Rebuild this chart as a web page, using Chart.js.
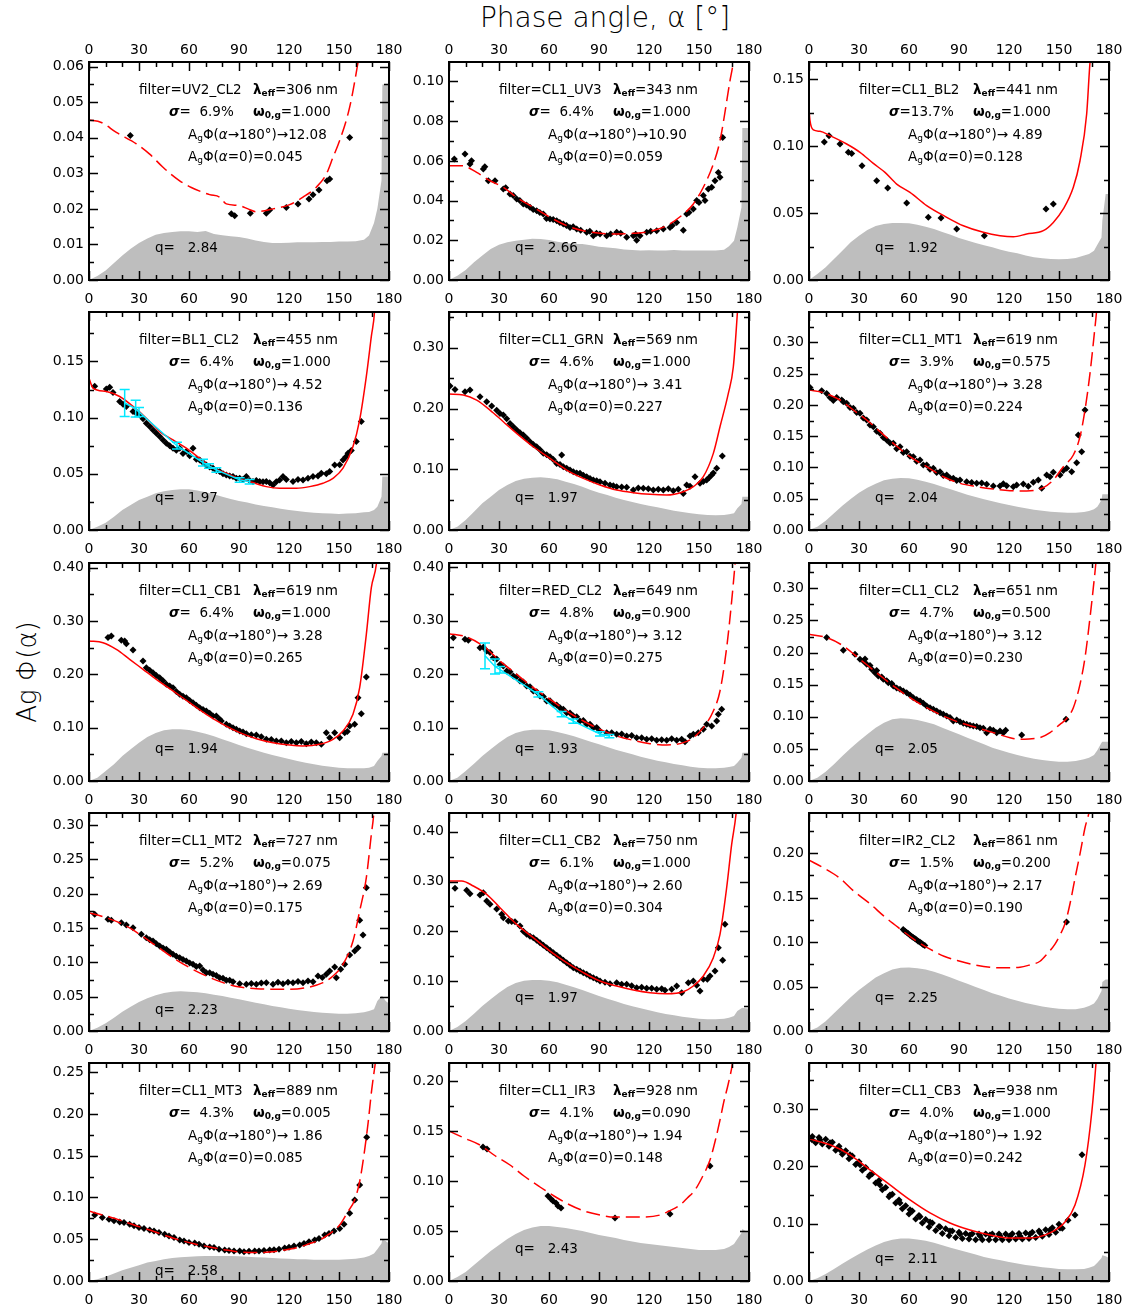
<!DOCTYPE html>
<html><head><meta charset="utf-8"><title>Phase curves</title>
<script src="https://cdn.jsdelivr.net/npm/chart.js@4.4.1/dist/chart.umd.min.js"></script>
<style>
html,body{margin:0;padding:0;background:#fff;}
#wrap{position:relative;width:1134px;height:1313px;overflow:hidden;background:#fff;}
#wrap canvas{position:absolute;}
.lbl{position:absolute;font-family:"DejaVu Sans ExtraLight","DejaVu Sans",sans-serif;font-weight:200;color:#000;white-space:nowrap;text-align:center;}
#title{left:405px;top:0px;width:400px;font-size:28px;line-height:36px;}
#ylab{left:-73px;top:655px;width:200px;height:34px;font-size:26px;line-height:34px;transform:rotate(-90deg);}
</style></head>
<body><div id="wrap">
<div id="title" class="lbl">Phase angle, α [°]</div>
<div id="ylab" class="lbl">Ag Φ(α)</div>
</div>
<script>
// ---------------- DATA ----------------
const filters = ['UV2_CL2','CL1_UV3','CL1_BL2','BL1_CL2','CL1_GRN','CL1_MT1','CL1_CB1','RED_CL2','CL1_CL2','CL1_MT2','CL1_CB2','IR2_CL2','CL1_MT3','CL1_IR3','CL1_CB3'];
const lambdas = ['306','343','441','455','569','619','619','649','651','727','750','861','889','928','938'];
const sigmas = ['  6.9%','  6.4%','13.7%','  6.4%','  4.6%','  3.9%','  6.4%','  4.8%','  4.7%','  5.2%','  6.1%','  1.5%','  4.3%','  4.1%','  4.0%'];
const omegas = ['1.000','1.000','1.000','1.000','1.000','0.575','1.000','0.900','0.500','0.075','1.000','0.200','0.005','0.090','1.000'];
const ag180 = ['12.08','10.90',' 4.89',' 4.52',' 3.41',' 3.28',' 3.28',' 3.12',' 3.12',' 2.69',' 2.60',' 2.17',' 1.86',' 1.94',' 1.92'];
const ag0 = ['0.045','0.059','0.128','0.136','0.227','0.224','0.265','0.275','0.230','0.175','0.304','0.190','0.085','0.148','0.242'];
const qvals = ['2.84','2.66','1.92','1.97','1.97','2.04','1.94','1.93','2.05','2.23','1.97','2.25','2.58','2.43','2.11'];
const yMax = [0.0613,0.1098,0.1627,0.194,0.359,0.3485,0.409,0.4075,0.3395,0.3175,0.4375,0.245,0.261,0.218,0.38];
const yStep = [0.01,0.02,0.05,0.05,0.10,0.05,0.10,0.10,0.05,0.05,0.10,0.05,0.05,0.05,0.10];
const dashedFit = [true,true,false,false,false,true,false,true,true,true,false,true,true,true,false];
const xTicks = [0,30,60,90,120,150,180];

const histX = [0,5,10,15,20,25,30,35,40,45,50,55,60,65,70,75,80,85,90,95,100,105,110,115,120,125,130,135,140,145,150,155,160,165,168,171,173,175.5,176,178,180];
const hist1 = [0,0.0011,0.0027,0.0048,0.0069,0.0088,0.0104,0.0117,0.0127,0.0132,0.0135,0.0137,0.0137,0.0135,0.0138,0.0129,0.0126,0.0123,0.0121,0.0117,0.0111,0.0107,0.0104,0.0104,0.0105,0.0106,0.0106,0.0106,0.0107,0.0107,0.0108,0.0108,0.0109,0.0113,0.0125,0.016,0.02,0.028,0.055,0.055,0.055];
const hist2 = [0,0.0022,0.005,0.0089,0.0123,0.0156,0.0178,0.019,0.0198,0.0203,0.0208,0.0206,0.0201,0.0193,0.0186,0.0181,0.0181,0.0175,0.0168,0.0164,0.016,0.0154,0.0151,0.0148,0.015,0.0148,0.0148,0.0151,0.0148,0.0148,0.0148,0.0148,0.0148,0.0152,0.017,0.0198,0.0265,0.0366,0.0765,0.0765,0.0765];
const hist3 = [0,0.0045,0.0095,0.0157,0.0219,0.0281,0.0331,0.0373,0.0403,0.0418,0.0425,0.0425,0.0423,0.0413,0.0398,0.0381,0.0358,0.0338,0.0313,0.0294,0.0276,0.0259,0.0244,0.0226,0.0211,0.0199,0.0182,0.0169,0.0162,0.0157,0.0154,0.0157,0.0164,0.0182,0.0194,0.0219,0.0264,0.0318,0.0443,0.0642,0.0642];
const hist4 = [0,0.003,0.0065,0.0119,0.0178,0.0223,0.0267,0.0297,0.0327,0.0345,0.0357,0.0362,0.0362,0.0351,0.0336,0.0318,0.0297,0.0276,0.0258,0.0244,0.0226,0.0214,0.0202,0.019,0.0178,0.0169,0.016,0.0154,0.0149,0.0146,0.0143,0.0146,0.0149,0.0157,0.016,0.0178,0.0208,0.0297,0.0475,0.0475,0.0475];
const hist5 = [0,0.0055,0.0165,0.0302,0.0439,0.0549,0.0658,0.0741,0.0806,0.0845,0.0861,0.0867,0.0856,0.0834,0.0795,0.0757,0.0713,0.0658,0.0614,0.0576,0.0532,0.0494,0.0461,0.0428,0.04,0.0373,0.0346,0.0318,0.0296,0.0274,0.0258,0.0247,0.0241,0.0247,0.0258,0.0274,0.0357,0.0428,0.0549,0.0549,0.0549];
const hist6 = [0,0.0053,0.0149,0.0266,0.0389,0.0495,0.0597,0.0677,0.0741,0.0794,0.082,0.0831,0.0826,0.0804,0.0773,0.0735,0.0693,0.065,0.0607,0.0565,0.0527,0.049,0.0458,0.0426,0.04,0.0373,0.0346,0.0325,0.0309,0.0293,0.0282,0.0277,0.0277,0.0288,0.0304,0.033,0.0373,0.0479,0.057,0.057,0.057];
const hist7 = [0,0.0063,0.0188,0.0313,0.0469,0.0594,0.0719,0.0826,0.0901,0.0951,0.0969,0.0969,0.0957,0.0926,0.0888,0.0838,0.0782,0.0732,0.0675,0.0625,0.0575,0.0532,0.0488,0.045,0.0413,0.0375,0.0344,0.0313,0.0288,0.0269,0.025,0.0238,0.0238,0.0238,0.025,0.0281,0.0375,0.0469,0.0532,0.0532,0.0532];
const hist8 = [0,0.0062,0.0187,0.0324,0.0467,0.0592,0.0717,0.0822,0.0897,0.0941,0.096,0.096,0.0947,0.0916,0.0879,0.0835,0.0785,0.0735,0.0685,0.0636,0.0586,0.0542,0.0498,0.0455,0.0417,0.038,0.0349,0.0318,0.0293,0.0268,0.0249,0.0237,0.0237,0.0249,0.0262,0.028,0.0343,0.0436,0.053,0.053,0.053];
const hist9 = [0,0.0052,0.0145,0.026,0.0389,0.0509,0.0623,0.0727,0.0831,0.0909,0.0961,0.0976,0.0971,0.095,0.0919,0.0883,0.0831,0.0779,0.0727,0.0675,0.0623,0.0571,0.0519,0.0478,0.0441,0.0405,0.0374,0.0348,0.0327,0.0312,0.0301,0.0301,0.0312,0.0337,0.0363,0.0405,0.0478,0.0597,0.0613,0.0613,0.0613];
const hist10 = [0,0.0049,0.0112,0.0194,0.0282,0.0354,0.0422,0.0476,0.0519,0.0553,0.0573,0.0578,0.0573,0.0563,0.0549,0.0529,0.051,0.0485,0.0461,0.0437,0.0413,0.0388,0.0364,0.0345,0.0325,0.0306,0.0291,0.0277,0.0267,0.0257,0.0252,0.0252,0.0257,0.0272,0.0291,0.0316,0.0437,0.051,0.051,0.0437,0.04];
const hist11 = [0,0.008,0.0201,0.0348,0.0502,0.0635,0.0769,0.0883,0.0963,0.101,0.1023,0.1023,0.101,0.0977,0.093,0.0876,0.0823,0.0763,0.0702,0.0649,0.0595,0.0542,0.0495,0.0455,0.0415,0.0375,0.0341,0.0314,0.0288,0.0268,0.0247,0.0234,0.0234,0.0247,0.0268,0.0301,0.0401,0.0455,0.0468,0.0455,0.045];
const hist12 = [0,0.004,0.011,0.02,0.029,0.038,0.046,0.053,0.06,0.065,0.069,0.071,0.0715,0.0705,0.069,0.0665,0.0635,0.06,0.0565,0.053,0.0495,0.046,0.0425,0.0395,0.0365,0.034,0.0315,0.0295,0.0275,0.026,0.025,0.0245,0.0245,0.026,0.028,0.031,0.036,0.045,0.055,0.058,0.058];
const hist13 = [0,0.002,0.005,0.009,0.013,0.016,0.019,0.022,0.024,0.026,0.0275,0.0285,0.029,0.0295,0.03,0.03,0.03,0.0298,0.0295,0.029,0.0285,0.028,0.0275,0.027,0.0265,0.026,0.026,0.0255,0.0255,0.0255,0.0255,0.026,0.0265,0.028,0.03,0.033,0.038,0.045,0.05,0.048,0.045];
const hist14 = [0,0.004,0.009,0.016,0.023,0.03,0.036,0.042,0.047,0.051,0.0535,0.055,0.055,0.054,0.053,0.0515,0.05,0.048,0.046,0.0445,0.043,0.041,0.0395,0.038,0.037,0.036,0.035,0.034,0.033,0.032,0.031,0.031,0.031,0.032,0.034,0.037,0.042,0.048,0.052,0.05,0.048];
const hist15 = [0,0.005,0.012,0.021,0.03,0.039,0.047,0.055,0.062,0.068,0.072,0.074,0.074,0.0725,0.07,0.0665,0.0625,0.058,0.054,0.05,0.046,0.042,0.039,0.036,0.033,0.0305,0.028,0.026,0.024,0.0225,0.021,0.0205,0.0205,0.021,0.023,0.026,0.032,0.04,0.045,0.043,0.04];

const pts1 = [[24.8,0.0406],[85.4,0.0186],[87.4,0.0181],[96.8,0.0188],[106.4,0.0188],[108.4,0.0197],[118.4,0.0204],[125.4,0.0214],[132,0.0228],[134.4,0.024],[138,0.0253],[142.8,0.0279],[144.4,0.0284],[156.4,0.0401]];
const pts2 = [[3.2,0.061],[9.6,0.0634],[12.6,0.0584],[13.5,0.060],[20.6,0.0559],[21.5,0.057],[23.6,0.050],[27.6,0.050],[32.6,0.0458],[34,0.0465],[36.6,0.0433],[38.5,0.0425],[40.6,0.0408],[42.5,0.040],[44.6,0.0383],[46.5,0.0378],[48.6,0.0366],[50.5,0.0355],[52.6,0.0349],[54.5,0.034],[56.6,0.0332],[58.5,0.031],[60.6,0.0307],[62.5,0.0305],[64.6,0.0299],[66.5,0.029],[68.6,0.0282],[70.5,0.0275],[72.6,0.0265],[74.5,0.0268],[76.6,0.0257],[79,0.025],[82.6,0.024],[84.5,0.0245],[86.6,0.0223],[88.5,0.0235],[90.6,0.0232],[94.6,0.0223],[97,0.0232],[100.6,0.024],[103,0.0235],[106.6,0.0215],[110.6,0.0223],[112,0.023],[112.6,0.020],[114.6,0.0223],[118.6,0.024],[121,0.0245],[124.6,0.0248],[128.6,0.0257],[132.6,0.0265],[134,0.0275],[136.6,0.029],[140.6,0.025],[142.6,0.0332],[144,0.034],[146.6,0.0357],[148.6,0.040],[150,0.039],[152.6,0.0425],[153.6,0.040],[155.6,0.0458],[157.6,0.0467],[159.6,0.050],[161.6,0.0542],[162.6,0.0517],[164.2,0.0718]];
const pts3 = [[9.2,0.103],[12,0.1077],[18.6,0.1015],[23.6,0.0953],[25.6,0.0945],[31.8,0.0853],[40.6,0.0741],[47.2,0.0687],[58.6,0.0575],[71.6,0.0468],[79.2,0.0463],[88.6,0.038],[105.2,0.0331],[142.2,0.053],[146.6,0.0567]];
const pts4 = [[3.4,0.128],[10.4,0.1254],[12.4,0.127],[14.4,0.1224],[18.4,0.1144],[22.4,0.11],[26.4,0.1055],[30.4,0.1025],[34.4,0.095],[38.4,0.0891],[42.4,0.0832],[46.4,0.0772],[50.4,0.0728],[54.4,0.0728],[58.4,0.0698],[62.4,0.0728],[66.4,0.0624],[70.4,0.0579],[74.4,0.055],[78.4,0.052],[82.4,0.049],[86.4,0.0475],[90.4,0.046],[94.4,0.0475],[98.4,0.0431],[102.4,0.0431],[106.4,0.0431],[110.4,0.0401],[114.4,0.0446],[116.4,0.0475],[122.4,0.0431],[128.4,0.0446],[134.4,0.0475],[139.4,0.0505],[144.4,0.052],[147.4,0.0579],[152.4,0.0624],[155.4,0.0683],[157.4,0.0707],[160.4,0.0787],[163.4,0.0966],
  [20.4,0.112],[28.4,0.104],[32.4,0.099],[36.4,0.092],[40.4,0.086],[44.4,0.080],[48.4,0.075],[52.4,0.071],[56.4,0.068],[60.4,0.066],[64.4,0.063],[68.4,0.060],[72.4,0.056],[76.4,0.053],[80.4,0.050],[84.4,0.048],[88.4,0.046],[92.4,0.045],[96.4,0.044],[100.4,0.044],[104.4,0.043],[108.4,0.042],[112.4,0.043],[118.4,0.045],[125.4,0.045],[131.4,0.046],[137.4,0.048],[142.4,0.050],[150.4,0.058],[154,0.065]];
const pts5 = [[0.6,0.237],[3.6,0.2315],[9.6,0.2277],[12.6,0.2304],[18.6,0.2194],[22.6,0.2112],[25.6,0.204],[32.6,0.1893],[36.6,0.1755],[40.6,0.1646],[44.6,0.1563],[48.6,0.1454],[52.6,0.1371],[56.6,0.1262],[60.6,0.1207],[64.6,0.1097],[67.6,0.1234],[70.6,0.1015],[74.6,0.096],[78.6,0.0933],[82.6,0.0878],[86.6,0.0823],[90.6,0.0795],[96.6,0.0741],[100.6,0.0713],[106.6,0.0702],[110.6,0.0658],[116.6,0.0686],[122.6,0.0658],[128.6,0.0658],[134.6,0.0647],[140.6,0.0603],[142.6,0.0741],[147.6,0.0878],[150.6,0.0768],[154.6,0.0823],[157.6,0.0905],[160.6,0.1015],[164,0.1218],
  [28.6,0.197],[30.6,0.192],[34.6,0.183],[38.6,0.170],[42.6,0.160],[46.6,0.151],[50.6,0.141],[54.6,0.132],[58.6,0.124],[62.6,0.116],[66.6,0.108],[68.6,0.104],[72.6,0.099],[76.6,0.094],[80.6,0.090],[84.6,0.085],[88.6,0.081],[93.6,0.077],[98.6,0.073],[103.6,0.071],[113.6,0.069],[119.6,0.068],[125.6,0.067],[131.6,0.068],[137.6,0.067],[144.6,0.072],[152.6,0.080],[156,0.086],[158.6,0.094]];
const pts6 = [[0.6,0.228],[7.6,0.2227],[10.6,0.2184],[12.6,0.212],[16.6,0.212],[19.6,0.2078],[22.6,0.2025],[26.6,0.1945],[30.6,0.1865],[34.6,0.1758],[38.6,0.1652],[42.6,0.1545],[46.6,0.1438],[50.6,0.1385],[54.6,0.1332],[58.6,0.1252],[62.6,0.1172],[66.6,0.1119],[70.6,0.1039],[74.6,0.0986],[78.6,0.0932],[82.6,0.0879],[86.6,0.0826],[90.6,0.0799],[94.6,0.0773],[100.6,0.0746],[106.6,0.073],[110.6,0.0703],[114.6,0.0703],[118.6,0.0709],[122.6,0.0693],[128.6,0.0735],[134.6,0.0762],[137.6,0.0799],[139.6,0.0666],[142.6,0.0879],[146.6,0.0922],[150.6,0.0879],[154.6,0.0986],[157.6,0.0932],[160.6,0.1076],[161.6,0.1518],[163.6,0.1252],[165.6,0.1918],
  [14.6,0.207],[20.6,0.205],[24.6,0.196],[28.6,0.188],[32.6,0.179],[36.6,0.168],[40.6,0.158],[44.6,0.148],[48.6,0.139],[52.6,0.130],[56.6,0.124],[60.6,0.118],[64.6,0.110],[68.6,0.104],[72.6,0.097],[76.6,0.092],[80.6,0.087],[84.6,0.083],[88.6,0.079],[97.6,0.076],[103.6,0.075],[116.6,0.074],[124.6,0.072],[131.6,0.070],[144.6,0.085],[152.6,0.095]];
const pts7 = [[11.4,0.269],[13.4,0.272],[19.4,0.264],[21.4,0.2627],[22.4,0.2577],[26.4,0.2458],[32.4,0.2251],[34.4,0.2126],[38.4,0.2033],[42.4,0.1939],[46.4,0.1814],[50.4,0.1751],[54.4,0.1626],[58.4,0.1563],[62.4,0.147],[66.4,0.1376],[70.4,0.1313],[74.4,0.122],[76.4,0.122],[79.4,0.1126],[82.4,0.1063],[86.4,0.1],[90.4,0.0938],[94.4,0.0888],[100.4,0.0863],[106.4,0.0782],[112.4,0.075],[118.4,0.0719],[124.4,0.0719],[130.4,0.07],[136.4,0.0719],[139.4,0.0688],[142.4,0.0907],[144.4,0.0813],[147.4,0.0907],[150.4,0.0813],[153.4,0.0907],[156.4,0.1032],[159.4,0.1063],[161.4,0.1563],[163.4,0.1263],[166.4,0.1951],
  [36.4,0.208],[40.4,0.198],[44.4,0.188],[48.4,0.178],[52.4,0.168],[56.4,0.159],[60.4,0.151],[64.4,0.142],[68.4,0.134],[72.4,0.127],[78.4,0.116],[84.4,0.103],[88.4,0.097],[92.4,0.092],[97.4,0.087],[103.4,0.083],[109.4,0.078],[115.4,0.075],[121.4,0.074],[127.4,0.074],[133.4,0.073],[155,0.093]];
const pts8 = [[2.6,0.268],[9.6,0.2648],[11.6,0.263],[18.6,0.2492],[22.6,0.243],[26.6,0.2305],[30.6,0.218],[34.6,0.2056],[38.6,0.1963],[42.6,0.1869],[46.6,0.1776],[50.6,0.1682],[54.6,0.1589],[58.6,0.1495],[62.6,0.1433],[66.6,0.1371],[70.6,0.1277],[74.6,0.1215],[78.6,0.1121],[82.6,0.1059],[86.6,0.0997],[90.6,0.0935],[94.6,0.0903],[100.6,0.0872],[106.6,0.0841],[112.6,0.081],[118.6,0.0779],[124.6,0.076],[130.6,0.076],[136.6,0.076],[141.6,0.0735],[144.6,0.0841],[146.6,0.0872],[152.6,0.0966],[154.6,0.1059],[157.6,0.1028],[160.6,0.1121],[161.6,0.1246],[163.6,0.134],
  [20.6,0.250],[24.6,0.240],[28.6,0.228],[32.6,0.215],[36.6,0.204],[40.6,0.195],[44.6,0.185],[48.6,0.176],[52.6,0.167],[56.6,0.158],[60.6,0.150],[64.6,0.142],[68.6,0.134],[72.6,0.127],[76.6,0.120],[80.6,0.113],[84.6,0.106],[88.6,0.100],[97.6,0.090],[103.6,0.088],[109.6,0.085],[115.6,0.081],[121.6,0.079],[127.6,0.077],[133.6,0.079],[139.6,0.078],[149.6,0.090]];
const pts9 = [[10.6,0.2233],[20.6,0.2035],[27.6,0.1973],[30.6,0.1895],[32.6,0.1869],[34.6,0.1817],[37.6,0.1739],[39.6,0.1687],[41.6,0.1636],[44.6,0.1584],[47.6,0.1532],[50.6,0.148],[54.6,0.1428],[58.6,0.1376],[62.6,0.1298],[66.6,0.1246],[70.6,0.1168],[74.6,0.1116],[78.6,0.1064],[82.6,0.1012],[86.6,0.0935],[90.6,0.0924],[94.6,0.0883],[98.6,0.0857],[102.6,0.0831],[106.6,0.0753],[108.6,0.0805],[112.6,0.0753],[116.6,0.0753],[127.6,0.0717],[154.2,0.0961],
  [33.6,0.190],[36.6,0.180],[40.6,0.172],[43.6,0.162],[46.6,0.156],[49.6,0.152],[52.6,0.145],[56.6,0.140],[60.6,0.134],[64.6,0.127],[68.6,0.121],[72.6,0.114],[76.6,0.109],[80.6,0.104],[84.6,0.099],[88.6,0.095],[92.6,0.090],[96.6,0.087],[100.6,0.085],[104.6,0.082],[110.6,0.079],[114.6,0.078],[118,0.079]];
const pts10 = [[3.4,0.1699],[11.4,0.1626],[13.4,0.1612],[19.4,0.1578],[22.4,0.1544],[26.4,0.1505],[31.4,0.1408],[34.4,0.1359],[38.4,0.1311],[42.4,0.1238],[46.4,0.1189],[50.4,0.1117],[54.4,0.1068],[58.4,0.1019],[62.4,0.0971],[66.4,0.0947],[70.4,0.085],[74.4,0.0825],[78.4,0.0777],[82.4,0.0738],[86.4,0.0718],[90.4,0.0689],[94.4,0.068],[100.4,0.068],[106.4,0.0704],[110.4,0.068],[116.4,0.0689],[122.4,0.0704],[128.4,0.0704],[134.4,0.0718],[137.4,0.0801],[142.4,0.0825],[144.4,0.0874],[147.4,0.0932],[148.4,0.0777],[153.4,0.0971],[156.4,0.1107],[159.4,0.1165],[161.4,0.1214],[162.4,0.1612],[164.4,0.1398],[166.4,0.2087],
  [36.4,0.133],[40.4,0.127],[44.4,0.121],[48.4,0.115],[52.4,0.109],[56.4,0.104],[60.4,0.099],[64.4,0.094],[68.4,0.089],[72.4,0.085],[76.4,0.081],[80.4,0.077],[84.4,0.074],[97.4,0.069],[103.4,0.070],[113.4,0.071],[119.4,0.071],[125.4,0.072],[131.4,0.073],[140,0.078],[151,0.090]];
const pts11 = [[3.6,0.2863],[10.6,0.2823],[12.6,0.2756],[18.6,0.2729],[20.6,0.2776],[22.6,0.2609],[24.6,0.2542],[31.6,0.2341],[32.6,0.2274],[35.6,0.2207],[39.6,0.2194],[42.6,0.2107],[46.6,0.194],[50.6,0.1873],[54.6,0.1773],[58.6,0.1672],[62.6,0.1572],[66.6,0.1472],[70.6,0.1371],[74.6,0.1271],[78.6,0.1204],[82.6,0.1137],[86.6,0.107],[90.6,0.1003],[96.6,0.095],[100.6,0.097],[106.6,0.0936],[112.6,0.087],[118.6,0.0856],[124.6,0.0836],[129.6,0.0816],[136.6,0.0903],[139.6,0.0769],[143.6,0.097],[146.6,0.1003],[150.6,0.0803],[152.6,0.1037],[156.6,0.1104],[159.6,0.1204],[161.6,0.1672],[164.2,0.1418],[165.6,0.214],
  [28.6,0.245],[37.6,0.220],[44.6,0.200],[48.6,0.190],[52.6,0.182],[56.6,0.172],[60.6,0.162],[64.6,0.152],[68.6,0.142],[72.6,0.132],[76.6,0.124],[80.6,0.117],[84.6,0.110],[88.6,0.104],[93.6,0.098],[103.6,0.094],[109.6,0.091],[115.6,0.088],[121.6,0.086],[127.6,0.085],[133.6,0.084],[148.6,0.092],[155,0.104]];
const pts12 = [[56.5,0.114],[57.5,0.1125],[58.5,0.111],[59.5,0.1095],[60.5,0.108],[61.5,0.1065],[62.5,0.105],[63.5,0.104],[64.5,0.1025],[65.5,0.101],[66.5,0.1],[67.5,0.0985],[68.5,0.097],[69.5,0.096],[154.5,0.1225]];
const pts13 = [[3.4,0.079],[18.4,0.0706],[24.4,0.068],[36.4,0.061],[45.4,0.056],[54.4,0.049],[63.4,0.0455],[72.4,0.0407],[81.4,0.037],[90.4,0.0359],[99.4,0.0359],[108.4,0.037],[117.4,0.0395],[126.4,0.043],[135.4,0.049],[141.4,0.055],[150.4,0.063],[156.4,0.081],[159.4,0.097],[162.4,0.115],[166.6,0.172],
  [8,0.076],[12,0.074],[15,0.072],[21,0.070],[27,0.066],[30,0.064],[33,0.063],[39,0.060],[42,0.058],[48,0.054],[51,0.052],[57,0.048],[60,0.046],[66,0.044],[69,0.042],[75,0.040],[78,0.038],[84,0.0365],[87,0.036],[93,0.035],[96,0.0355],[102,0.036],[105,0.0365],[111,0.0375],[114,0.038],[120,0.0405],[123,0.042],[129,0.045],[132,0.047],[138,0.051],[144,0.057],[147,0.060],[153,0.068]];
const pts14 = [[20.4,0.134],[22.8,0.132],[59.4,0.085],[61.2,0.082],[62.4,0.08],[64.2,0.078],[65.4,0.075],[67.2,0.073],[99.6,0.063],[132.6,0.067],[156.6,0.115]];
const pts15 = [[1.8,0.246],[6.6,0.246],[12.6,0.241],[18.6,0.229],[24.6,0.22],[30.6,0.2025],[36.6,0.185],[42.6,0.1675],[48.6,0.15],[54.6,0.136],[60.6,0.124],[66.6,0.112],[72.6,0.103],[78.6,0.094],[84.6,0.087],[90.6,0.082],[96.6,0.08],[102.6,0.0785],[108.6,0.08],[114.6,0.0785],[120.6,0.0785],[126.6,0.0785],[132.6,0.082],[138.6,0.084],[144.6,0.089],[150.6,0.0925],[155.4,0.106],[159.6,0.115],[163.8,0.22],
  [2,0.252],[6,0.250],[10,0.247],[14,0.242],[18,0.235],[22,0.227],[26,0.218],[30,0.208],[34,0.198],[38,0.187],[42,0.175],[46,0.163],[50,0.151],[54,0.141],[58,0.131],[62,0.122],[66,0.114],[70,0.107],[74,0.101],[78,0.095],[82,0.091],[86,0.087],[90,0.085],[94,0.083],[98,0.0825],[102,0.082],[106,0.082],[110,0.082],[114,0.082],[118,0.082],[122,0.0825],[126,0.083],[130,0.0835],[134,0.085],[138,0.087],[142,0.0895],[146,0.093],[150,0.099],
  [4,0.241],[8,0.239],[12,0.235],[16,0.228],[20,0.221],[24,0.213],[28,0.203],[32,0.193],[36,0.182],[40,0.171],[44,0.159],[48,0.147],[52,0.136],[56,0.126],[60,0.117],[64,0.108],[68,0.101],[72,0.094],[76,0.088],[80,0.083],[84,0.079],[88,0.076],[92,0.074],[96,0.073],[100,0.072],[104,0.072],[108,0.072],[112,0.072],[116,0.072],[120,0.072],[124,0.073],[128,0.073],[132,0.074],[136,0.076],[140,0.078],[144,0.081],[148,0.085],[152,0.092]];

const fit1 = [[0,0.045],[7.4,0.0443],[16.4,0.0415],[28.4,0.0383],[36.4,0.0354],[44.4,0.0317],[54.4,0.0279],[61.4,0.026],[72.4,0.024],[78.4,0.0233],[82.4,0.0214],[90.4,0.0209],[95.4,0.02],[100.4,0.0192],[110.4,0.02],[120.4,0.0212],[128.4,0.0233],[136.4,0.0261],[142.4,0.0298],[146.4,0.0345],[150.4,0.0392],[156.4,0.0486],[161.4,0.0612],[166,0.075]];
const fit2 = [[0,0.0576],[7.6,0.0576],[16.6,0.0542],[24.6,0.05],[32.6,0.0467],[40.6,0.0416],[50.6,0.0366],[60.6,0.0316],[70.6,0.0274],[80.6,0.0248],[90.6,0.0235],[100.6,0.0232],[110.6,0.0235],[120.6,0.0245],[130.6,0.0274],[140.6,0.0332],[146.6,0.0383],[152.6,0.0467],[158.6,0.0584],[162.6,0.0702],[168.6,0.1004],[170.6,0.11],[173,0.13]];
const fit3 = [[0,0.1276],[0.6,0.119],[2.6,0.112],[6.6,0.111],[12.6,0.1077],[22.6,0.1015],[30.6,0.0953],[38.6,0.087],[45.6,0.0803],[52.6,0.0716],[60.6,0.0654],[70.6,0.0555],[82.6,0.0468],[92.6,0.0405],[104.6,0.0356],[114.6,0.0331],[122.6,0.0323],[130.6,0.0343],[140.6,0.0368],[146.6,0.043],[152.6,0.053],[158.6,0.0692],[162.6,0.089],[166.6,0.1239],[168.6,0.1624],[172,0.2]];
const fit4 = [[0,0.135],[2.4,0.1263],[10.4,0.1233],[18.4,0.1188],[26.4,0.11],[34.4,0.0995],[42.4,0.0876],[50.4,0.0802],[58.4,0.0728],[66.4,0.0639],[74.4,0.055],[82.4,0.0505],[90.4,0.0455],[98.4,0.0422],[106.4,0.0386],[114.4,0.0371],[124.4,0.0371],[132.4,0.0386],[140.4,0.0416],[146.4,0.046],[152.4,0.055],[158.4,0.0743],[162.4,0.098],[166.4,0.1367],[169.4,0.1723],[171.4,0.196],[173,0.25]];
const fit5 = [[0,0.2238],[8.6,0.2222],[16.6,0.2139],[24.6,0.1975],[32.6,0.1783],[40.6,0.1591],[50.6,0.1371],[60.6,0.1179],[70.6,0.0987],[80.6,0.085],[90.6,0.0741],[100.6,0.0658],[110.6,0.0614],[120.6,0.0587],[130.6,0.0576],[140.6,0.0631],[146.6,0.0713],[152.6,0.0878],[158.6,0.1262],[162.6,0.17],[167.6,0.2249],[170.6,0.2688],[173,0.3566],[175,0.45]];
const fit6 = [[0,0.2238],[8.6,0.2195],[18.6,0.2078],[26.6,0.1918],[34.6,0.1758],[42.6,0.1572],[50.6,0.1385],[60.6,0.1172],[70.6,0.1012],[80.6,0.0852],[90.6,0.0746],[100.6,0.0693],[110.6,0.0655],[120.6,0.0629],[130.6,0.0623],[140.6,0.0677],[146.6,0.0799],[152.6,0.1012],[158.6,0.1199],[162.6,0.1492],[165.6,0.1918],[168.6,0.2504],[171.2,0.3143],[172.6,0.352],[175,0.45]];
const fit7 = [[0,0.2627],[8.4,0.2595],[16.4,0.247],[24.4,0.2283],[32.4,0.2095],[40.4,0.1907],[50.4,0.1689],[60.4,0.147],[70.4,0.1251],[80.4,0.1063],[90.4,0.0907],[100.4,0.0794],[110.4,0.0719],[120.4,0.0675],[128.4,0.0657],[138.4,0.0688],[146.4,0.0782],[152.4,0.0938],[158.4,0.1251],[162.4,0.1751],[166.4,0.2752],[169.4,0.3627],[172.4,0.4065],[175,0.5]];
const fit8 = [[0,0.2754],[10.6,0.2692],[20.6,0.2523],[30.6,0.2243],[40.6,0.1994],[50.6,0.1745],[60.6,0.1526],[70.6,0.1308],[80.6,0.1121],[90.6,0.0966],[100.6,0.0841],[110.6,0.076],[120.6,0.0698],[130.6,0.0673],[140.6,0.0717],[146.6,0.081],[152.6,0.0997],[158.6,0.1308],[162.6,0.1682],[166.6,0.2492],[169.6,0.3364],[171.6,0.405],[174,0.5]];
const fit9 = [[0,0.2285],[10.6,0.2233],[20.6,0.2103],[30.6,0.1895],[40.6,0.1687],[50.6,0.148],[60.6,0.1298],[70.6,0.1142],[80.6,0.1012],[90.6,0.0909],[100.6,0.0831],[110.6,0.0753],[120.6,0.0675],[126.6,0.0649],[132,0.0655],[138.6,0.0675],[144.6,0.0753],[150.6,0.0883],[154.2,0.0961],[158.6,0.1142],[162.6,0.1506],[165.6,0.1921],[168.6,0.2544],[170.6,0.3011],[172.2,0.3427],[175,0.45]];
const fit10 = [[0,0.1723],[10.4,0.165],[20.4,0.1553],[30.4,0.1408],[40.4,0.1238],[50.4,0.1068],[60.4,0.0922],[70.4,0.0801],[80.4,0.0704],[90.4,0.0641],[100.4,0.0617],[110.4,0.0607],[120.4,0.0607],[130.4,0.0631],[140.4,0.0704],[146.4,0.0801],[152.4,0.0971],[158.4,0.1311],[162.4,0.1748],[166.4,0.2233],[169.4,0.2864],[170.8,0.3155],[174,0.45]];
const fit11 = [[0,0.301],[7.6,0.301],[14.6,0.291],[22.6,0.2742],[30.6,0.2475],[40.6,0.214],[50.6,0.1873],[60.6,0.1605],[70.6,0.1371],[80.6,0.1171],[90.6,0.1003],[100.6,0.0903],[110.6,0.0823],[120.6,0.0769],[130.6,0.0749],[140.6,0.0789],[146.6,0.0903],[152.6,0.1104],[158.6,0.1472],[162.6,0.194],[166.6,0.2876],[169.6,0.3746],[172.2,0.4348],[175,0.55]];
const fit12 = [[0,0.192],[9,0.183],[18.6,0.1716],[27,0.157],[36.6,0.143],[45,0.129],[54.6,0.1148],[63,0.103],[72.6,0.092],[81,0.084],[90.6,0.0784],[99,0.0745],[108.6,0.0716],[117,0.071],[126.6,0.0716],[132,0.074],[138.6,0.0784],[143,0.087],[147.6,0.0977],[150.6,0.108],[153.6,0.1205],[156.6,0.143],[159.6,0.1716],[162.6,0.199],[165.6,0.2284],[168.6,0.251],[172,0.3]];
const fit13 = [[0,0.0837],[10,0.078],[18.4,0.073],[27,0.067],[36.4,0.061],[45,0.055],[54.4,0.049],[63,0.0445],[72.4,0.0407],[81,0.0375],[90.4,0.0347],[99,0.034],[108.4,0.0347],[117,0.037],[126.4,0.0407],[132,0.0445],[138.4,0.049],[144,0.056],[150.4,0.067],[155,0.082],[159.4,0.0969],[162.5,0.12],[165.4,0.157],[167.5,0.19],[169.6,0.2285],[172,0.264]];
const fit14 = [[0,0.15],[9,0.143],[18.6,0.136],[27,0.126],[36.6,0.116],[45,0.105],[54.6,0.094],[63,0.085],[72.6,0.076],[81,0.07],[90.6,0.066],[99,0.064],[108.6,0.064],[117,0.064],[126.6,0.066],[132,0.07],[138.6,0.076],[143,0.083],[147.6,0.091],[152,0.104],[156.6,0.121],[160,0.142],[162.6,0.161],[165,0.18],[167.4,0.196],[170.4,0.221],[173,0.26]];
const fit15 = [[0,0.2478],[12.6,0.2374],[24.6,0.22],[36.6,0.1937],[48.6,0.1675],[60.6,0.1414],[72.6,0.1187],[84.6,0.1012],[96.6,0.089],[108.6,0.0803],[120.6,0.075],[132.6,0.075],[144.6,0.0838],[153.6,0.103],[159.6,0.1326],[165.6,0.2024],[169.8,0.298],[172.2,0.38],[175,0.5]];

const cyan4 = [[21.4,0.113],[28,0.108],[30,0.105],[52.8,0.075],[68.4,0.060],[72,0.057],[76.4,0.0535],[90.4,0.0446],[96.4,0.043]];
const cyanErr4 = [0.012,0.0075,0.004,0.003,0.003,0.002,0.002,0.002,0.002];
const cyan8 = [[21.6,0.234],[27.6,0.214],[30.6,0.208],[53.6,0.162],[67.6,0.125],[74.6,0.112],[90.6,0.088],[96.2,0.084]];
const cyanErr8 = [0.024,0.014,0.006,0.005,0.005,0.004,0.004,0.003];

const HISTS = [hist1,hist2,hist3,hist4,hist5,hist6,hist7,hist8,hist9,hist10,hist11,hist12,hist13,hist14,hist15];
const POINTS = [pts1,pts2,pts3,pts4,pts5,pts6,pts7,pts8,pts9,pts10,pts11,pts12,pts13,pts14,pts15];
const FITS = [fit1,fit2,fit3,fit4,fit5,fit6,fit7,fit8,fit9,fit10,fit11,fit12,fit13,fit14,fit15];
const CYAN = {3:[cyan4,cyanErr4], 7:[cyan8,cyanErr8]};

// ---------------- LAYOUT ----------------
const PLOT_LEFT = [89,449,809];
const PLOT_TOP = [62,312,563,813,1063];
const Q_LIFT = [32,32,32,32,32,32,32,32,32,21,33,33,10,32,22];
const FAM = '"DejaVu Sans"';
Chart.defaults.font.family = 'DejaVu Sans';

function fontFor(st){
  if(st==='b') return 'bold 13.5px '+FAM;
  if(st==='bi') return 'italic bold 13.5px '+FAM;
  if(st==='i') return 'italic 13.5px '+FAM;
  if(st==='s') return '9px '+FAM;
  if(st==='sb') return 'bold 9px '+FAM;
  return '13.5px '+FAM;
}
function drawRich(ctx,x,y,segs){
  ctx.textBaseline='middle'; ctx.textAlign='left'; ctx.fillStyle='#000';
  for(const [t,st] of segs){
    ctx.font=fontFor(st);
    const dy=(st==='s'||st==='sb')?4:0;
    ctx.fillText(t,x,y+dy);
    x+=ctx.measureText(t).width;
  }
}
const toXY = arr => arr.map(p=>({x:p[0],y:p[1]}));

const wrap=document.getElementById('wrap');
for(let i=0;i<15;i++){
  const r=Math.floor(i/3), c=i%3;
  const cv=document.createElement('canvas');
  cv.width=390; cv.height=271;
  cv.style.left=(PLOT_LEFT[c]-60)+'px'; cv.style.top=(PLOT_TOP[r]-25)+'px';
  cv.style.width='390px'; cv.style.height='271px';
  wrap.appendChild(cv);

  const datasets=[
    {type:'line', data:histX.map((x,k)=>({x,y:HISTS[i][k]})), fill:'origin', backgroundColor:'#bebebe', borderColor:'rgba(0,0,0,0)', borderWidth:0, pointRadius:0, tension:0, order:5},
    {type:'scatter', data:toXY(POINTS[i]), pointStyle:'rectRot', pointRadius:3.5, backgroundColor:'#000', borderColor:'#000', borderWidth:0, order:4},
    {type:'line', data:toXY(FITS[i]), borderColor:'#ff0000', borderWidth:1.5, borderDash:dashedFit[i]?[14,6]:[], pointRadius:0, fill:false, cubicInterpolationMode:'monotone', order:3}
  ];
  if(CYAN[i]) datasets.push({type:'line', data:toXY(CYAN[i][0]), borderColor:'#00e8ff', borderWidth:1.5, pointRadius:0, fill:false, tension:0, order:2});

  const tickFont={family:'DejaVu Sans', size:14};
  const scales={
    x:{type:'linear', position:'bottom', min:0, max:180,
       afterBuildTicks:s=>{s.ticks=xTicks.map(v=>({value:v}));},
       ticks:{font:tickFont, color:'#000', padding:11, maxRotation:0, autoSkip:false},
       grid:{display:false, drawTicks:false}, border:{display:false},
       afterFit:s=>{s.height=28;}},
    y:{type:'linear', position:'left', min:0, max:yMax[i],
       ticks:{stepSize:yStep[i], includeBounds:false, font:tickFont, color:'#000', padding:5, callback:v=>Number(v).toFixed(2)},
       grid:{display:false, drawTicks:false}, border:{display:false},
       afterFit:s=>{s.width=60;}}
  };
  if(r===0){
    scales.x2={type:'linear', position:'top', min:0, max:180,
       afterBuildTicks:s=>{s.ticks=xTicks.map(v=>({value:v}));},
       ticks:{font:tickFont, color:'#000', padding:3, maxRotation:0, autoSkip:false},
       grid:{display:false, drawTicks:false}, border:{display:false},
       afterFit:s=>{s.height=25;}};
  }

  const panelPlugin={
    id:'panel'+i,
    afterDatasetsDraw(chart){
      const {ctx, chartArea:a, scales:{x,y}}=chart;
      ctx.save();
      if(CYAN[i]){
        const pts=CYAN[i][0], errs=CYAN[i][1];
        ctx.strokeStyle='#00e8ff'; ctx.lineWidth=1.5;
        for(let k=0;k<pts.length;k++){
          const px=x.getPixelForValue(pts[k][0]);
          const t=y.getPixelForValue(pts[k][1]+errs[k]), b=y.getPixelForValue(pts[k][1]-errs[k]);
          ctx.beginPath();
          ctx.moveTo(px,t); ctx.lineTo(px,b);
          ctx.moveTo(px-5,t); ctx.lineTo(px+5,t);
          ctx.moveTo(px-5,b); ctx.lineTo(px+5,b);
          ctx.stroke();
        }
      }
      ctx.strokeStyle='#000'; ctx.lineWidth=1.5;
      ctx.beginPath();
      for(let v=0; v<=180; v+=10){
        const px=Math.round(x.getPixelForValue(v))+0.5;
        const len=(v%30===0)?9:5;
        ctx.moveTo(px,a.bottom); ctx.lineTo(px,a.bottom-len);
        ctx.moveTo(px,a.top); ctx.lineTo(px,a.top+len);
      }
      const half=yStep[i]/2;
      for(let k=0; k*half<=yMax[i]+1e-9; k++){
        const py=Math.round(y.getPixelForValue(k*half))+0.5;
        const len=(k%2===0)?9:5;
        ctx.moveTo(a.left,py); ctx.lineTo(a.left+len,py);
        ctx.moveTo(a.right,py); ctx.lineTo(a.right-len,py);
      }
      ctx.stroke();
      ctx.lineWidth=2;
      ctx.strokeRect(a.left,a.top,a.right-a.left,a.bottom-a.top);
      ctx.restore();
    },
    afterDraw(chart){
      const {ctx, chartArea:a}=chart;
      ctx.save();
      const x0=a.left, y0=a.top;
      drawRich(ctx,x0+50,y0+28,[['filter='+filters[i],'n']]);
      drawRich(ctx,x0+164,y0+28,[['λ','b'],['eff','sb'],['='+lambdas[i]+' nm','n']]);
      drawRich(ctx,x0+80,y0+50,[['σ','bi'],['='+sigmas[i],'n']]);
      drawRich(ctx,x0+164,y0+50,[['ω','b'],['0,g','sb'],['='+omegas[i],'n']]);
      drawRich(ctx,x0+99,y0+73,[['A','n'],['g','s'],['Φ(','n'],['α','i'],['→180°)→'+ag180[i],'n']]);
      drawRich(ctx,x0+99,y0+95,[['A','n'],['g','s'],['Φ(','n'],['α','i'],['=0)='+ag0[i],'n']]);
      drawRich(ctx,x0+66,a.bottom-Q_LIFT[i],[['q=   '+qvals[i],'n']]);
      ctx.restore();
    }
  };

  new Chart(cv,{
    type:'scatter',
    data:{datasets},
    options:{
      responsive:false, maintainAspectRatio:false, animation:false, devicePixelRatio:1, events:[],
      layout:{padding:{top:r===0?0:25, right:30, left:0, bottom:0}},
      plugins:{legend:{display:false}, tooltip:{enabled:false}, title:{display:false}},
      scales
    },
    plugins:[panelPlugin]
  });
}
</script>
</body></html>
